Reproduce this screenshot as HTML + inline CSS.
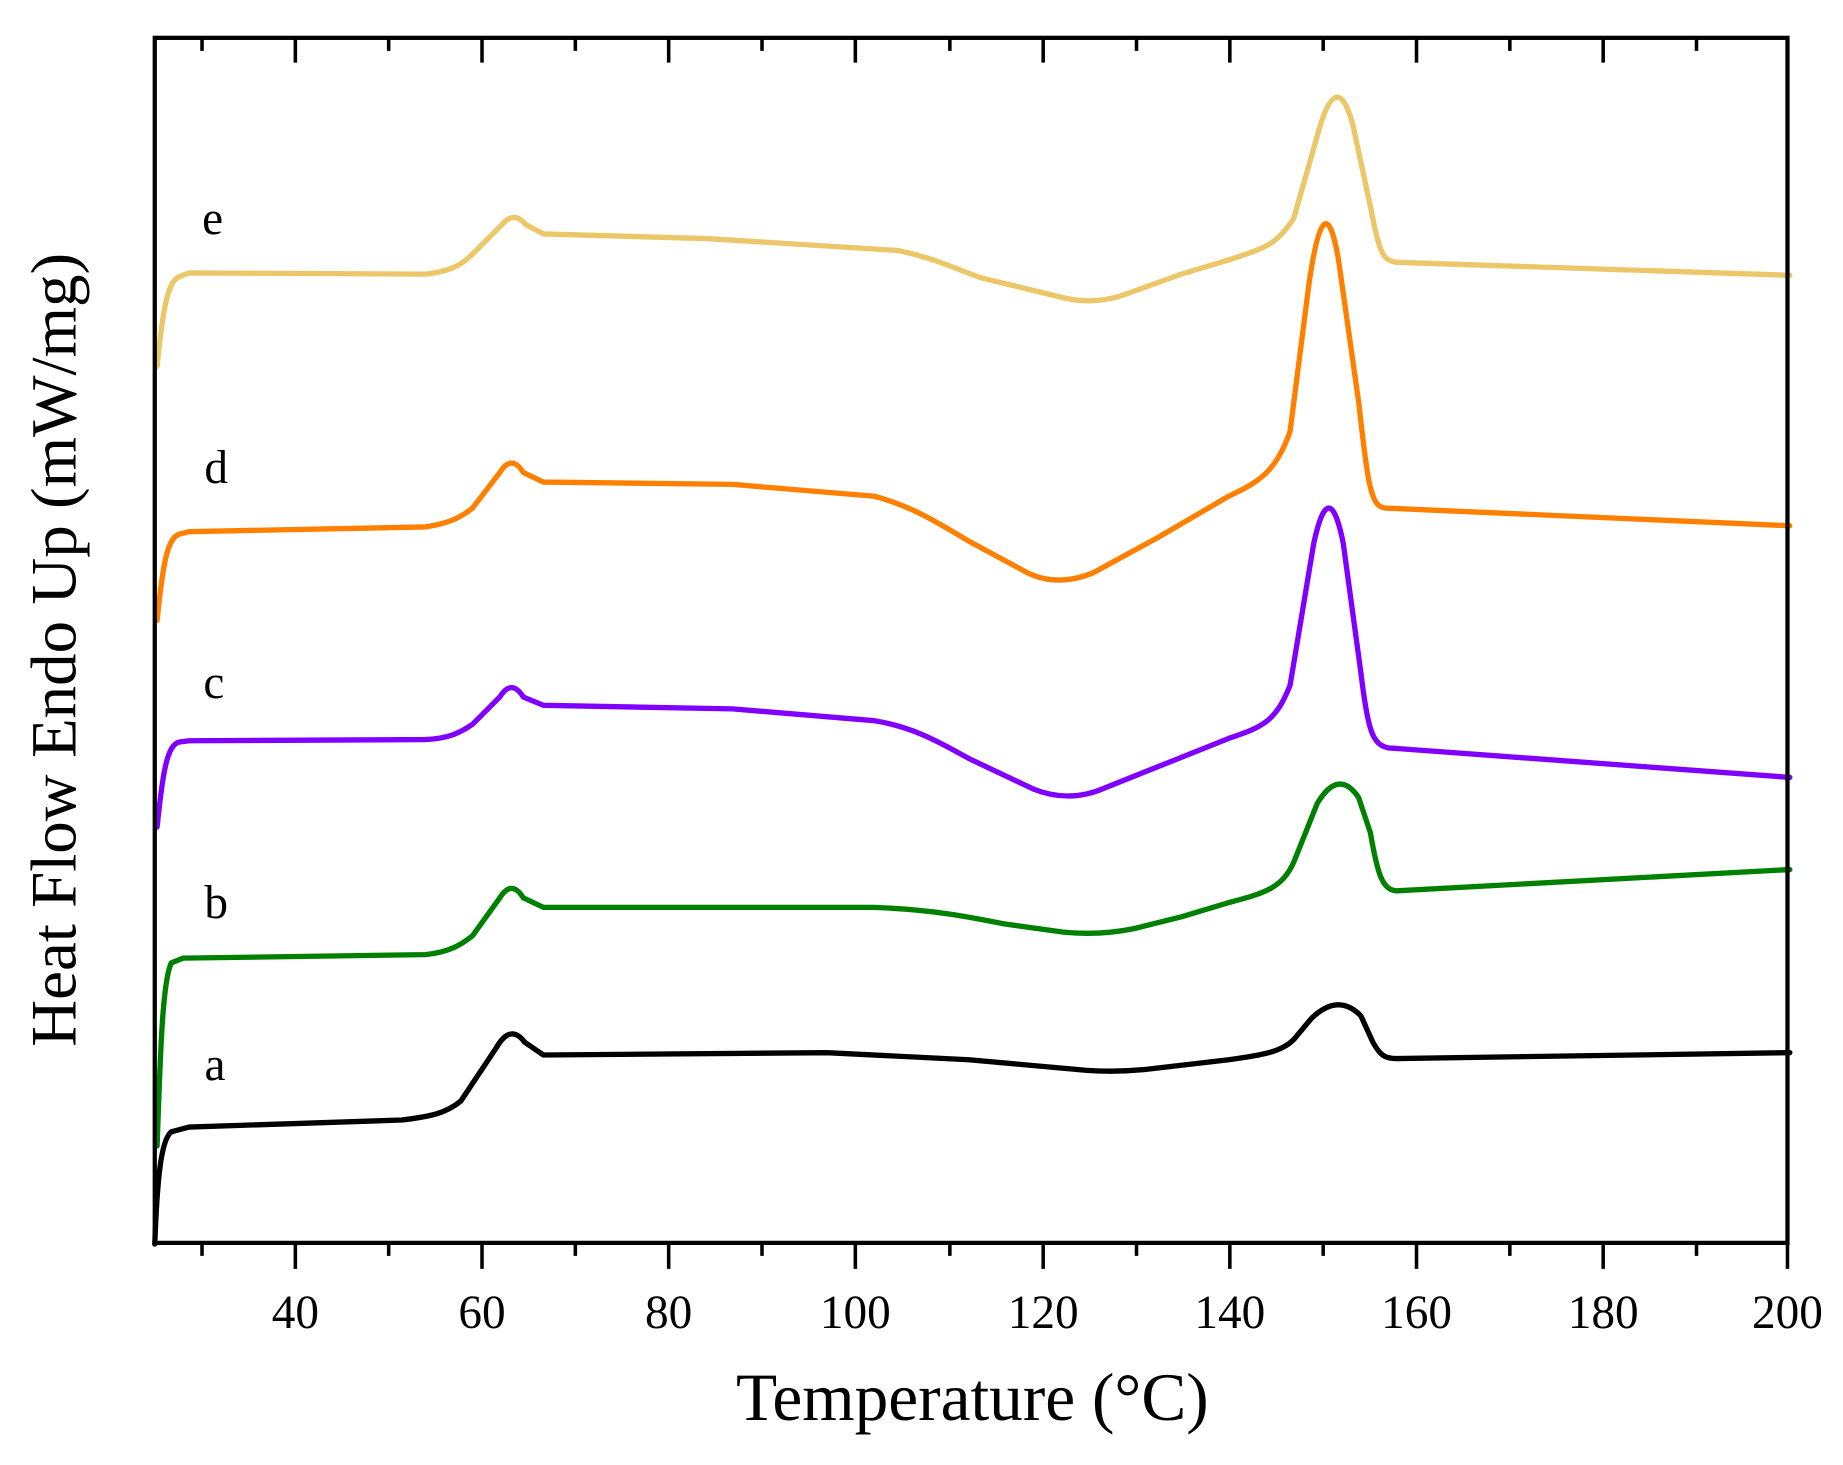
<!DOCTYPE html>
<html><head><style>html,body{margin:0;padding:0;background:#fff}svg{display:block}</style></head>
<body>
<svg width="1843" height="1465" viewBox="0 0 1560 1240" xmlns="http://www.w3.org/2000/svg" font-family="'Liberation Serif', serif">
<g fill="none" stroke-linejoin="round" stroke-linecap="round" stroke-width="4.5">
<path stroke="#ecc76a" d="M133,310 C138,260 142,238 152,234 L160,231 L360,232 C380,230 390,225 400,215 L425,190 Q435,178 445,190 L460,198 L600,202 L760,212 C790,218 810,228 830,235 L900,252 Q925,258 950,250 L1000,232 L1040,220 C1070,210 1080,208 1095,185 L1115,115 Q1131,55 1145,105 L1160,175 C1168,215 1170,220 1182,222 L1515,233"/>
<path stroke="#ff8000" d="M133,525 C138,475 142,455 152,452 L160,450 L360,446 C380,443 390,438 400,430 L423,400 Q433,384 443,400 L460,408 L620,410 L740,420 C770,428 790,440 820,458 L870,485 Q895,497 925,485 L980,455 L1040,420 C1065,408 1080,400 1092,365 L1108,240 Q1121,150 1133,220 L1150,340 C1158,410 1160,428 1172,430 L1515,445"/>
<path stroke="#8000ff" d="M133,700 C138,650 142,630 152,628 L160,627 L360,626 C380,625 390,620 400,613 L423,590 Q433,574 443,590 L460,597 L620,600 L740,610 C770,615 790,625 820,642 L875,668 Q905,680 935,667 L990,645 L1040,625 C1070,615 1080,610 1092,580 L1112,460 Q1125,400 1137,460 L1152,570 C1158,620 1162,630 1175,633 L1515,658"/>
<path stroke="#008000" d="M133,970 C136,880 138,830 145,815 L155,811 L360,808 C380,806 390,800 400,792 L423,760 Q433,744 443,760 L460,768 L740,768 C790,770 820,776 850,782 L900,789 Q930,792 960,786 L1000,776 L1040,764 C1070,756 1085,752 1095,730 L1115,680 Q1133,650 1150,675 L1160,705 C1166,740 1170,753 1182,754 L1515,736"/>
<path stroke="#000000" d="M131,1053 C133,1000 136,965 145,958 L160,954 L340,948 C365,945 378,942 390,932 L420,887 Q432,866 444,882 L460,893 L700,891 L820,897 L920,906 Q950,908 980,904 L1040,897 C1070,893 1085,890 1095,880 L1110,862 Q1133,840 1152,860 L1162,882 C1168,893 1172,896 1182,896 L1515,891"/>
</g>
<g stroke="#000" fill="none">
<rect x="131" y="32" width="1382" height="1020" stroke-width="3.6"/>
<path stroke-width="3" d="M250,1052v22 M408,1052v22 M566,1052v22 M724,1052v22 M883,1052v22 M1041,1052v22 M1199,1052v22 M1357,1052v22 M1513,1052v22
M171,1052v11 M329,1052v11 M487,1052v11 M645,1052v11 M804,1052v11 M962,1052v11 M1120,1052v11 M1278,1052v11 M1436,1052v11
M250,32v21 M408,32v21 M566,32v21 M724,32v21 M883,32v21 M1041,32v21 M1199,32v21 M1357,32v21
M171,32v11 M329,32v11 M487,32v11 M645,32v11 M804,32v11 M962,32v11 M1120,32v11 M1278,32v11 M1436,32v11"/>
</g>
<g font-size="40" text-anchor="middle" fill="#000">
<text x="250" y="1124">40</text><text x="408" y="1124">60</text><text x="566" y="1124">80</text><text x="724" y="1124">100</text><text x="883" y="1124">120</text><text x="1041" y="1124">140</text><text x="1199" y="1124">160</text><text x="1357" y="1124">180</text><text x="1513" y="1124">200</text>
</g>
<text x="823" y="1202" font-size="57" text-anchor="middle">Temperature (°C)</text>
<text transform="translate(64,550) rotate(-90)" font-size="55" text-anchor="middle">Heat Flow Endo Up (mW/mg)</text>
<g font-size="40" fill="#000" text-anchor="middle">
<text x="180" y="198">e</text><text x="183" y="409">d</text><text x="181" y="591">c</text><text x="183" y="777">b</text><text x="182" y="914">a</text>
</g>
</svg>
</body></html>
